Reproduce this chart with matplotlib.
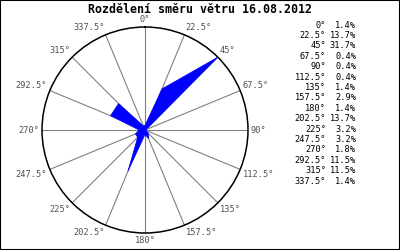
import numpy as np
import matplotlib
matplotlib.use("Agg")
import matplotlib.pyplot as plt
from matplotlib.patches import Rectangle

# wind direction shares (%), 16 sectors
title = "Rozdělení směru větru 16.08.2012"
directions = [0, 22.5, 45, 67.5, 90, 112.5, 135, 157.5,
              180, 202.5, 225, 247.5, 270, 292.5, 315, 337.5]
shares = [1.4, 13.7, 31.7, 0.4, 0.4, 0.4, 1.4, 2.9,
          1.4, 13.7, 3.2, 3.2, 1.8, 11.5, 11.5, 1.4]
dir_labels = ["%g°" % d for d in directions]

plt.rcParams['font.family'] = ['DejaVu Sans Mono']

fig = plt.figure(figsize=(4, 2.5), dpi=100)
# 1px frame round the picture (half of the line falls outside)
fig.patches.append(Rectangle((0, 0), 1, 1, transform=fig.transFigure,
                             fill=False, edgecolor='black', linewidth=1.5))

fig.text(0.5, 0.962, title, ha='center', va='center',
         fontsize=8.4, fontweight='bold')

ax = fig.add_axes([0.105, 0.068, 0.515, 0.824], projection='polar')
ax.set_theta_zero_location('N')
ax.set_theta_direction(-1)
ax.set_ylim(0, max(shares))
ax.set_yticks([])
ax.set_xticks(np.radians(directions))
ax.set_xticklabels([])
ax.xaxis.grid(True, color='#808080', linewidth=0.8)
ax.spines['polar'].set_color('black')
ax.spines['polar'].set_linewidth(1.1)

th = np.radians(directions + [directions[0]])
r = shares + [shares[0]]
ax.fill(th, r, facecolor='blue', edgecolor='blue', linewidth=0.5, zorder=3)

# direction labels outside the circle
for d, lab in zip(directions, dir_labels):
    s = np.sin(np.radians(d))
    c = np.cos(np.radians(d))
    ha = 'center' if abs(s) < 0.1 else ('left' if s > 0 else 'right')
    va = 'center' if abs(c) < 0.1 else ('bottom' if c > 0 else 'top')
    ax.annotate(lab, (np.radians(d), max(shares)), xytext=(2 * s, 2 * c),
                textcoords='offset points', ha=ha, va=va,
                fontsize=6.2, color='#505050', annotation_clip=False)

# legend list on the right
for i, (lab, v) in enumerate(zip(dir_labels, shares)):
    y = 1 - (25 + i * 10.4) / 250
    fig.text(326 / 400, y, lab, ha='right', va='center', fontsize=6.2)
    fig.text(356 / 400, y, "%.1f%%" % v, ha='right', va='center', fontsize=6.2)

fig.savefig("out.png", dpi=100)
